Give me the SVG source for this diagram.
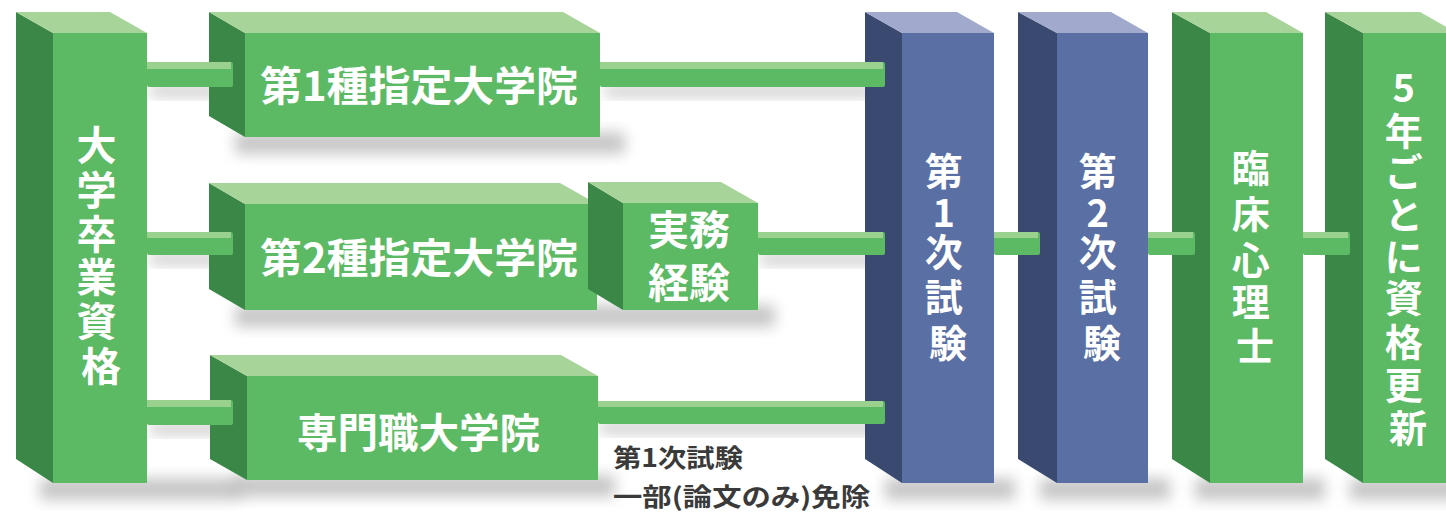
<svg xmlns="http://www.w3.org/2000/svg" width="1446" height="512" viewBox="0 0 1446 512">
  <defs>
    <filter id="blur" x="-20%" y="-50%" width="140%" height="200%">
      <feGaussianBlur stdDeviation="7"/>
    </filter>
    <style>
      .gf{fill:#5cb964}
      .gt{fill:#a7d499}
      .gs{fill:#3a8747}
      .bf{fill:#5a6fa3}
      .bt{fill:#a1a9cc}
      .bs{fill:#3a4970}
      .sh{fill:#9a9a9a;opacity:0.55;filter:url(#blur)}
      .cf{fill:#5cb964}
      .ct{fill:#9bd18e}
      .lbl{font-family:"Noto Sans CJK JP","Noto Sans",sans-serif;font-weight:700;fill:#ffffff;font-size:41px}
      .v{font-family:"Noto Sans CJK JP","Noto Sans",sans-serif;font-weight:700;fill:#ffffff;text-anchor:middle}
      .note{font-family:"Noto Sans CJK JP","Noto Sans",sans-serif;font-weight:700;fill:#3a3a3a;font-size:25px}
    </style>
  </defs>
  <rect width="1446" height="512" fill="#ffffff"/>

  <!-- shadows -->
  <g id="shadows">
    <rect class="sh" x="40" y="478" width="200" height="22"/>
    <rect class="sh" x="235" y="132" width="390" height="22"/>
    <rect class="sh" x="235" y="305" width="540" height="22"/>
    <rect class="sh" x="235" y="475" width="380" height="22"/>
    <rect class="sh" x="885" y="478" width="130" height="22"/>
    <rect class="sh" x="1040" y="478" width="130" height="22"/>
    <rect class="sh" x="1195" y="478" width="130" height="22"/>
    <rect class="sh" x="1350" y="478" width="110" height="22"/>
    <rect class="sh" x="150" y="86" width="80" height="10" opacity="0.35"/>
    <rect class="sh" x="605" y="86" width="270" height="10" opacity="0.35"/>
    <rect class="sh" x="150" y="254" width="80" height="10" opacity="0.35"/>
    <rect class="sh" x="760" y="254" width="120" height="10" opacity="0.35"/>
    <rect class="sh" x="150" y="424" width="80" height="10" opacity="0.35"/>
    <rect class="sh" x="600" y="423" width="280" height="10" opacity="0.35"/>
  </g>

  <!-- 大学卒業資格 -->
  <g id="node-daigaku">
    <polygon class="gs" points="16,12 53,33 53,483 16,459"/>
    <polygon class="gt" points="16,12 110,12 147,33 53,33"/>
    <rect class="gf" x="53" y="33" width="94" height="450"/>
    <text class="v" font-size="40">
      <tspan x="101" y="160">大</tspan>
      <tspan x="101" y="205">学</tspan>
      <tspan x="101" y="249">卒</tspan>
      <tspan x="101" y="292">業</tspan>
      <tspan x="101" y="336">資</tspan>
      <tspan x="101" y="381">格</tspan>
    </text>
  </g>

  <!-- 第1種指定大学院 -->
  <g id="node-shitei1">
    <polygon class="gs" points="209,12 245,33 245,137 209,116"/>
    <polygon class="gt" points="209,12 563,12 600,33 245,33"/>
    <rect class="gf" x="245" y="33" width="355" height="104"/>
    <text class="lbl" x="260" y="101" textLength="318" lengthAdjust="spacingAndGlyphs">第1種指定大学院</text>
  </g>

  <!-- 第2種指定大学院 -->
  <g id="node-shitei2">
    <polygon class="gs" points="209,183 245,204 245,310 209,289"/>
    <polygon class="gt" points="209,183 560,183 597,204 245,204"/>
    <rect class="gf" x="245" y="204" width="352" height="106"/>
    <text class="lbl" x="260" y="273" textLength="318" lengthAdjust="spacingAndGlyphs">第2種指定大学院</text>
  </g>

  <!-- 実務経験 -->
  <g id="node-jitsumu">
    <polygon class="gs" points="588,182 623,203 623,310 588,289"/>
    <polygon class="gt" points="588,182 721,182 758,203 623,203"/>
    <rect class="gf" x="623" y="203" width="135" height="107"/>
    <text class="lbl" x="689" y="245" text-anchor="middle">実務</text>
    <text class="lbl" x="689" y="298" text-anchor="middle">経験</text>
  </g>

  <!-- 専門職大学院 -->
  <g id="node-senmon">
    <polygon class="gs" points="210,355 247,376 247,480 210,459"/>
    <polygon class="gt" points="210,355 561,355 598,376 247,376"/>
    <rect class="gf" x="247" y="376" width="351" height="104"/>
    <text class="lbl" x="297" y="448" textLength="243" lengthAdjust="spacingAndGlyphs">専門職大学院</text>
  </g>

  <!-- 第1次試験 -->
  <g id="node-shiken1">
    <polygon class="bs" points="865,12 902,33 902,483 865,459"/>
    <polygon class="bt" points="865,12 957,12 994,33 902,33"/>
    <rect class="bf" x="902" y="33" width="92" height="450"/>
    <text class="v" font-size="38">
      <tspan x="948" y="185">第</tspan>
      <tspan x="948" y="227">1</tspan>
      <tspan x="948" y="266">次</tspan>
      <tspan x="948" y="311">試</tspan>
      <tspan x="948" y="357">験</tspan>
    </text>
  </g>

  <!-- 第2次試験 -->
  <g id="node-shiken2">
    <polygon class="bs" points="1018,12 1057,33 1057,483 1018,459"/>
    <polygon class="bt" points="1018,12 1111,12 1148,33 1057,33"/>
    <rect class="bf" x="1057" y="33" width="91" height="450"/>
    <text class="v" font-size="38">
      <tspan x="1102" y="185">第</tspan>
      <tspan x="1102" y="227">2</tspan>
      <tspan x="1102" y="266">次</tspan>
      <tspan x="1102" y="311">試</tspan>
      <tspan x="1102" y="357">験</tspan>
    </text>
  </g>

  <!-- 臨床心理士 -->
  <g id="node-rinsho">
    <polygon class="gs" points="1172,12 1210,33 1210,483 1172,459"/>
    <polygon class="gt" points="1172,12 1266,12 1303,33 1210,33"/>
    <rect class="gf" x="1210" y="33" width="93" height="450"/>
    <text class="v" font-size="38">
      <tspan x="1255" y="182">臨</tspan>
      <tspan x="1255" y="228">床</tspan>
      <tspan x="1255" y="274">心</tspan>
      <tspan x="1255" y="316">理</tspan>
      <tspan x="1255" y="360">士</tspan>
    </text>
  </g>

  <!-- 5年ごとに資格更新 -->
  <g id="node-koshin">
    <polygon class="gs" points="1325,12 1363,33 1363,483 1325,459"/>
    <polygon class="gt" points="1325,12 1420,12 1457,33 1363,33"/>
    <rect class="gf" x="1363" y="33" width="95" height="450"/>
    <text class="v" font-size="38">
      <tspan x="1408" y="102">5</tspan>
      <tspan x="1408" y="145">年</tspan>
      <tspan x="1408" y="186">ご</tspan>
      <tspan x="1408" y="229">と</tspan>
      <tspan x="1408" y="271">に</tspan>
      <tspan x="1408" y="312">資</tspan>
      <tspan x="1408" y="356">格</tspan>
      <tspan x="1408" y="399">更</tspan>
      <tspan x="1408" y="442">新</tspan>
    </text>
  </g>

  <!-- connectors -->
  <g id="connectors">
    <rect class="cf" x="147" y="62" width="86" height="25" rx="2"/>
    <rect class="ct" x="147" y="62" width="84" height="7"/>
    <rect class="cf" x="600" y="62" width="285" height="25" rx="2"/>
    <rect class="ct" x="600" y="62" width="283" height="7"/>

    <rect class="cf" x="147" y="232" width="86" height="23" rx="2"/>
    <rect class="ct" x="147" y="232" width="84" height="6"/>
    <rect class="cf" x="758" y="232" width="127" height="23" rx="2"/>
    <rect class="ct" x="758" y="232" width="125" height="6"/>

    <rect class="cf" x="147" y="400" width="86" height="25" rx="2"/>
    <rect class="ct" x="147" y="400" width="84" height="7"/>
    <rect class="cf" x="598" y="401" width="287" height="23" rx="2"/>
    <rect class="ct" x="598" y="401" width="285" height="6"/>

    <rect class="cf" x="994" y="232" width="46" height="23" rx="2"/>
    <rect class="ct" x="994" y="232" width="44" height="6"/>
    <rect class="cf" x="1148" y="232" width="47" height="23" rx="2"/>
    <rect class="ct" x="1148" y="232" width="45" height="6"/>
    <rect class="cf" x="1303" y="232" width="47" height="23" rx="2"/>
    <rect class="ct" x="1303" y="232" width="45" height="6"/>
  </g>

  <!-- note -->
  <g id="note">
    <text class="note" x="613" y="467" textLength="130" lengthAdjust="spacingAndGlyphs">第1次試験</text>
    <text class="note" x="613" y="506" textLength="257" lengthAdjust="spacingAndGlyphs">一部(論文のみ)免除</text>
  </g>
</svg>
